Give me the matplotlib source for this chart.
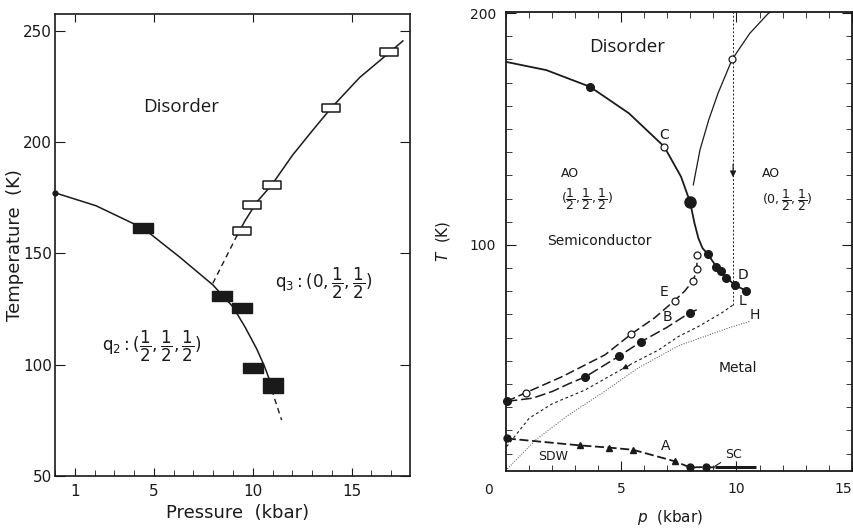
import matplotlib
matplotlib.use('Agg')
from matplotlib import pyplot as plt
from matplotlib.ticker import MultipleLocator, FixedLocator

plt.rcParams['font.family'] = ['DejaVu Sans']
plt.rcParams['mathtext.fontset'] = 'dejavusans'
plt.rcParams['mathtext.default'] = 'regular'

INK = '#1a1a1a'

# ---- left panel: pressure (kbar) vs temperature (K)
q2_p = [4.47, 8.45, 9.46, 10.0]
q2_T = [161.2, 130.7, 125.6, 98.6]
q2_big_p = [11.01]
q2_big_T = [91.0]
q3_p = [9.46, 9.97, 10.98, 13.96, 16.91]
q3_T = [160.2, 171.9, 180.5, 215.3, 240.3]

q2_curve_p = [0.0, 2.07, 4.47, 6.29, 7.98, 8.99, 9.6, 10.2, 10.6, 10.85]
q2_curve_T = [177.2, 171.4, 161.2, 148.4, 135.8, 126.0, 117.0, 107.0, 99.0, 93.0]
q2_ext_p = [10.85, 11.07, 11.46]
q2_ext_T = [93.0, 85.5, 75.0]
q3_ext_p = [7.98, 9.19]
q3_ext_T = [136.5, 157.8]
q3_curve_p = [9.19, 9.6, 10.2, 10.98, 12.0, 13.0, 13.96, 15.4, 16.91, 17.59]
q3_curve_T = [157.8, 164.5, 173.0, 181.0, 194.0, 205.0, 215.3, 229.0, 240.3, 245.5]

left_xticks = [1, 5, 10, 15]
left_yticks = [50, 100, 150, 200, 250]

# ---- right panel: p (kbar) vs T (K)
cd_p = [0.0, 1.77, 3.66, 5.34, 6.87, 7.6, 7.99, 8.18, 8.35, 8.53, 8.75, 9.13, 9.32, 9.56, 9.92, 10.39]
cd_T = [179.0, 175.4, 168.2, 156.8, 142.4, 129.4, 118.5, 109.4, 102.9, 98.6, 96.1, 90.6, 88.9, 85.9, 82.8, 80.3]
cd_dot_p = [3.66, 8.75, 9.13, 9.32, 9.56, 9.92, 10.39]
cd_dot_T = [168.2, 96.1, 90.6, 88.9, 85.9, 82.8, 80.3]
cd_big_p = [7.99]
cd_big_T = [118.5]

ao3_p = [8.13, 8.42, 8.8, 9.2, 9.81, 10.57, 11.35, 11.6]
ao3_T = [125.9, 141.0, 154.0, 165.4, 180.0, 191.2, 199.6, 201.5]
open_p = [6.87, 9.81]
open_T = [142.4, 180.0]

vert_p = [9.85, 9.85]
vert_T = [74.1, 200.6]

E_p = [0.05, 0.89, 2.46, 4.31, 5.45, 6.45, 7.32, 7.75, 8.13, 8.28, 8.3]
E_T = [32.5, 36.3, 43.2, 52.6, 61.6, 68.5, 76.0, 80.0, 84.6, 89.5, 95.7]
E_open_p = [0.89, 5.45, 7.32, 8.13, 8.28, 8.3]
E_open_T = [36.3, 61.6, 76.0, 84.6, 89.5, 95.7]

B_p = [0.05, 1.18, 2.03, 2.74, 3.46, 4.91, 5.88, 7.0, 7.97, 8.28]
B_T = [32.5, 33.9, 36.8, 40.1, 43.1, 52.0, 58.3, 64.5, 70.7, 72.0]
B_dot_p = [0.05, 3.46, 4.91, 5.88, 7.97]
B_dot_T = [32.5, 43.1, 52.0, 58.3, 70.7]

L_p = [0.05, 1.03, 2.03, 3.46, 5.38, 6.63, 7.49, 8.35, 9.35, 9.85]
L_T = [13.0, 25.3, 31.5, 37.5, 48.3, 54.7, 60.5, 64.8, 70.6, 74.1]

H_p = [0.0, 1.32, 2.74, 4.17, 5.74, 7.49, 9.6, 10.57]
H_T = [2.6, 16.0, 26.7, 36.0, 46.9, 56.5, 64.0, 67.0]

A_p = [0.06, 3.24, 4.46, 5.53, 7.35, 7.99, 8.66, 9.06]
A_T = [16.5, 13.5, 12.6, 11.6, 6.6, 4.0, 4.2, 4.0]
A_tri_p = [3.24, 4.46, 5.53, 7.35]
A_tri_T = [13.5, 12.6, 11.6, 6.6]
A_dot_p = [0.06, 7.99, 8.66]
A_dot_T = [16.5, 4.0, 4.2]

SC_p = [9.06, 10.85]
SC_T = [4.0, 4.0]

right_xticks = [5, 10, 15]
right_yticks = [100, 200]

thin_rect = [(-1, -0.45), (1, -0.45), (1, 0.45), (-1, 0.45), (-1, -0.45)]
fat_rect = [(-1, -0.5), (1, -0.5), (1, 0.5), (-1, 0.5), (-1, -0.5)]
big_rect = [(-1, -0.75), (1, -0.75), (1, 0.75), (-1, 0.75), (-1, -0.75)]

fig = plt.figure(figsize=(8.54, 5.30), dpi=100)

# ================= left panel
ax1 = fig.add_axes([55/854, 54.3/530, 355/854, 461.7/530])
ax1.plot(q2_curve_p, q2_curve_T, color=INK, lw=1.1)
ax1.plot(q2_ext_p, q2_ext_T, color=INK, lw=1.0, ls=(0, (4, 3)))
ax1.plot(q3_ext_p, q3_ext_T, color=INK, lw=1.0, ls=(0, (4, 3)))
ax1.plot(q3_curve_p, q3_curve_T, color=INK, lw=1.1)
ax1.plot(q2_curve_p[:1], q2_curve_T[:1], 'o', color=INK, ms=3.5, clip_on=False)
ax1.plot(q2_p, q2_T, ls='none', marker=fat_rect, ms=14.4, color=INK)
ax1.plot(q2_big_p, q2_big_T, ls='none', marker=big_rect, ms=14.4, color=INK)
ax1.plot(q3_p, q3_T, ls='none', marker=thin_rect, ms=13.5, mfc='white', mec=INK, mew=1.1)

ax1.set_xlim(0, 17.95)
ax1.set_ylim(50, 257.6)
ax1.xaxis.set_major_locator(FixedLocator(left_xticks))
ax1.xaxis.set_minor_locator(MultipleLocator(1))
ax1.yaxis.set_major_locator(FixedLocator(left_yticks))
ax1.tick_params(which='both', direction='in', colors=INK, top=True, right=True, labelsize=11)
ax1.tick_params(axis='x', which='major', length=6, pad=6)
ax1.tick_params(axis='x', which='minor', length=4, top=False)
ax1.tick_params(axis='y', which='major', length=7, pad=2)
for s in ax1.spines.values():
    s.set_linewidth(1.2)
    s.set_color(INK)

ax1.set_xlabel('Pressure  (kbar)', fontsize=13, color=INK, va='center')
ax1.xaxis.set_label_coords(0.515, -0.08)
ax1.set_ylabel('Temperature  (K)', fontsize=13, color=INK, va='center')
ax1.yaxis.set_label_coords(-0.112, 0.5)

ax1.text(6.37, 215.7, 'Disorder', family=['Open Sans', 'DejaVu Sans'], fontsize=13.5,
         color=INK, ha='center', va='center')
ax1.text(13.6, 136.5, r'$q_3:(0,\dfrac{1}{2},\dfrac{1}{2})$', fontsize=12, color=INK,
         ha='center', va='center')
ax1.text(4.9, 108.0, r'$q_2:(\dfrac{1}{2},\dfrac{1}{2},\dfrac{1}{2})$', fontsize=12, color=INK,
         ha='center', va='center')

# ================= right panel
ax2 = fig.add_axes([505.5/854, 59.3/530, 346.5/854, 459/530])
ax2.plot(cd_p, cd_T, color=INK, lw=1.3)
ax2.plot(ao3_p, ao3_T, color=INK, lw=0.9)
ax2.plot(vert_p, vert_T, color=INK, lw=0.7, ls=(0, (2, 2)))
ax2.plot(E_p, E_T, color=INK, lw=1.1, ls=(0, (6, 2.5)))
ax2.plot(B_p, B_T, color=INK, lw=1.1, ls=(0, (7, 2.5)))
ax2.plot(L_p, L_T, color=INK, lw=0.8, ls=(0, (2.5, 2.5)))
ax2.plot(H_p, H_T, color='#444444', lw=0.7, ls=(0, (1, 1.6)))
ax2.plot(A_p, A_T, color=INK, lw=1.3, ls=(0, (5, 2)))
ax2.plot(SC_p, SC_T, color=INK, lw=2.2, solid_capstyle='butt')

ax2.plot(cd_dot_p, cd_dot_T, 'o', color=INK, ms=5.5, clip_on=False)
ax2.plot(cd_big_p, cd_big_T, 'o', color=INK, ms=8, clip_on=False)
ax2.plot(open_p, open_T, 'o', mfc='white', mec=INK, mew=0.9, ms=5)
ax2.plot(E_open_p, E_open_T, 'o', mfc='white', mec=INK, mew=0.9, ms=5)
ax2.plot(B_dot_p, B_dot_T, 'o', color=INK, ms=5.5, clip_on=False)
ax2.plot(A_tri_p, A_tri_T, '^', color=INK, ms=4.5)
ax2.plot(A_dot_p, A_dot_T, 'o', color=INK, ms=5, clip_on=False)

# arrowheads on the vertical line and on L
ax2.annotate('', xy=(vert_p[0], 128), xytext=(vert_p[0], 136),
             arrowprops=dict(arrowstyle='-|>', color=INK, lw=0.8, mutation_scale=9))
ax2.annotate('', xy=(L_p[4] - 0.45, L_T[4] - 2.5), xytext=(L_p[4] + 0.1, L_T[4] + 0.3),
             arrowprops=dict(arrowstyle='-|>', color=INK, lw=0.8, mutation_scale=8))

ax2.set_xlim(0, 15)
ax2.set_ylim(2.6, 200.6)
ax2.xaxis.set_major_locator(FixedLocator(right_xticks))
ax2.xaxis.set_minor_locator(MultipleLocator(1))
ax2.yaxis.set_major_locator(FixedLocator(right_yticks))
ax2.yaxis.set_minor_locator(MultipleLocator(10))
ax2.tick_params(which='both', direction='in', colors=INK, top=True, right=True, labelsize=10)
ax2.tick_params(which='major', length=7)
ax2.tick_params(which='minor', length=4.5)
ax2.tick_params(axis='x', which='major', pad=8)
ax2.tick_params(axis='y', which='major', pad=7)
for s in ax2.spines.values():
    s.set_linewidth(1.3)
    s.set_color(INK)
# last x label sits on the figure edge: keep it inside
ax2.xaxis.get_majorticklabels()[-1].set_horizontalalignment('right')

ax2.annotate('0', xy=(0, 0), xycoords='axes fraction', xytext=(-12, -14),
             textcoords='offset points', ha='center', va='center', fontsize=10, color=INK)
ax2.set_xlabel(r'$\mathit{p}$  (kbar)', fontsize=11, color=INK, va='center')
ax2.xaxis.set_label_coords(0.475, -0.103)
ax2.set_ylabel(r'$\mathit{T}$  (K)', fontsize=11, color=INK, va='center')
ax2.yaxis.set_label_coords(-0.18, 0.5)

ax2.text(5.27, 185.5, 'Disorder', family=['Open Sans', 'DejaVu Sans'], fontsize=13.5,
         color=INK, ha='center', va='center')
ax2.text(2.77, 130.9, 'AO', fontsize=9, color=INK, ha='center', va='center')
ax2.text(3.51, 119.7, r'$(\dfrac{1}{2},\dfrac{1}{2},\dfrac{1}{2})$', fontsize=9, color=INK,
         ha='center', va='center')
ax2.text(11.5, 130.9, 'AO', fontsize=9, color=INK, ha='center', va='center')
ax2.text(12.2, 119.4, r'$(0,\dfrac{1}{2},\dfrac{1}{2})$', fontsize=9, color=INK,
         ha='center', va='center')
ax2.text(4.06, 101.9, 'Semiconductor', fontsize=10, color=INK, ha='center', va='center')
ax2.text(10.06, 46.8, 'Metal', fontsize=10, color=INK, ha='center', va='center')
ax2.text(2.05, 8.7, 'SDW', fontsize=9, color=INK, ha='center', va='center')
for lab, px, py in [('C', 6.85, 147.4), ('E', 6.87, 79.9), ('B', 7.02, 68.8),
                    ('D', 10.28, 87.0), ('L', 10.28, 75.6), ('H', 10.78, 69.8),
                    ('A', 6.92, 13.1)]:
    ax2.text(px, py, lab, fontsize=10, color=INK, ha='center', va='center')
ax2.annotate('SC', xy=(SC_p[0], SC_T[0] + 0.5), xytext=(9.85, 9.5), fontsize=9,
             color=INK, ha='center', va='center',
             arrowprops=dict(arrowstyle='-', color=INK, lw=0.8, shrinkA=1, shrinkB=0))

fig.savefig('out.png', dpi=100, facecolor='white')
